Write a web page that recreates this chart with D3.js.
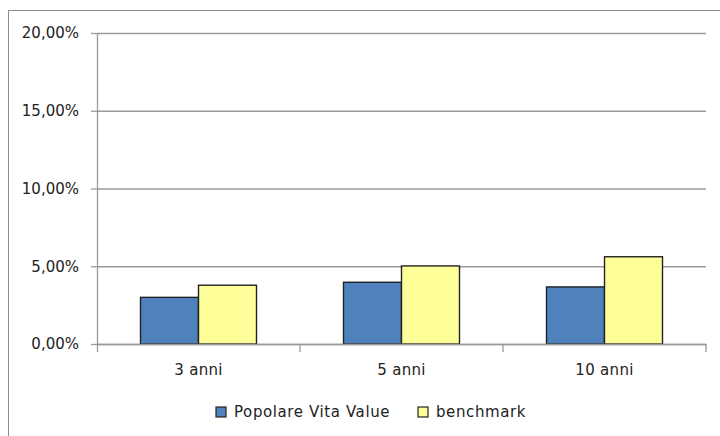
<!DOCTYPE html>
<html>
<head>
<meta charset="utf-8">
<script src="https://cdn.jsdelivr.net/npm/d3@7"></script>
<style>
  body { margin: 0; background: #fff; }
  svg text { font-family: "DejaVu Sans", sans-serif; fill: #222; }
</style>
</head>
<body>
<div id="vis"></div>
<script>
const categories = ["3 anni", "5 anni", "10 anni"];
const seriesNames = ["Popolare Vita Value", "benchmark"];
const fundValues = [0.0300, 0.0397, 0.0367];
const benchValues = [0.0378, 0.0502, 0.0561];
const yTicks = [0, 0.05, 0.10, 0.15, 0.20];

const FRAME_WIDTH = 720;
const FRAME_HEIGHT = 436;
const MARGINS = {left: 97, right: 14, top: 33, bottom: 92};
const VIS_W = FRAME_WIDTH - MARGINS.left - MARGINS.right;
const VIS_H = FRAME_HEIGHT - MARGINS.top - MARGINS.bottom;
const COLORS = ["#4f81bd", "#ffff99"];
const AXIS_COLOR = "#9a9a9a";

const itLocale = d3.formatLocale({decimal: ",", thousands: ".", grouping: [3], currency: ["", " €"], percent: "%"});
const fmt = itLocale.format(".2%");

const data = categories.map((c, i) => ({category: c, values: [fundValues[i], benchValues[i]]}));

const svg = d3.select("#vis").append("svg")
    .attr("width", FRAME_WIDTH)
    .attr("height", FRAME_HEIGHT);

// outer chart border (runs off the right and bottom of the picture)
svg.append("rect")
    .attr("x", 8.5).attr("y", 10.5)
    .attr("width", 740).attr("height", 460)
    .attr("fill", "none")
    .attr("stroke", "#8c8c8c");

const X_SCALE = d3.scaleBand().domain(categories).range([0, VIS_W]);
const SUB_SCALE = d3.scaleBand().domain([0, 1]).range([0, X_SCALE.bandwidth()])
    .paddingInner(0).paddingOuter(0.75);
const Y_SCALE = d3.scaleLinear().domain([0, 0.20]).range([VIS_H, 0]);

const plot = svg.append("g")
    .attr("transform", "translate(" + MARGINS.left + "," + MARGINS.top + ")");

// gridlines
plot.append("g")
    .call(d3.axisLeft(Y_SCALE).tickValues(yTicks).tickSize(-VIS_W).tickFormat(""))
    .call(g => g.select(".domain").remove())
    .call(g => g.selectAll("line").attr("stroke", AXIS_COLOR).attr("stroke-width", 1.3));

// y axis
plot.append("g")
    .call(d3.axisLeft(Y_SCALE).tickValues(yTicks).tickSize(6).tickPadding(12).tickFormat(fmt))
    .call(g => g.select(".domain").attr("d", "M0.5,0V" + (VIS_H + 8)).attr("stroke", AXIS_COLOR).attr("stroke-width", 1.3))
    .call(g => g.selectAll("line").attr("stroke", AXIS_COLOR).attr("stroke-width", 1.3))
    .call(g => g.selectAll("text").attr("font-size", "15px").style("font-family", "DejaVu Sans").attr("fill", "#222"));

// bars
const groups = plot.selectAll(".group")
    .data(data)
    .enter()
    .append("g")
    .attr("class", "group")
    .attr("transform", d => "translate(" + X_SCALE(d.category) + ",0)");

groups.selectAll("rect")
    .data(d => d.values.map((v, i) => ({i: i, v: v})))
    .enter()
    .append("rect")
    .attr("x", d => SUB_SCALE(d.i))
    .attr("y", d => Y_SCALE(d.v))
    .attr("width", SUB_SCALE.bandwidth())
    .attr("height", d => VIS_H - Y_SCALE(d.v))
    .attr("fill", d => COLORS[d.i])
    .attr("stroke", "#222")
    .attr("stroke-width", 1.4);

// x axis
plot.append("g")
    .attr("transform", "translate(0," + VIS_H + ")")
    .call(d3.axisBottom(X_SCALE).tickSize(0).tickPadding(20))
    .call(g => g.select(".domain").attr("stroke", AXIS_COLOR).attr("stroke-width", 1.3))
    .call(g => g.selectAll("text").attr("font-size", "15px").style("font-family", "DejaVu Sans")
        .attr("fill", "#222").attr("letter-spacing", "0.3px"));

// category boundary ticks
const bounds = categories.map(c => X_SCALE(c) + X_SCALE.bandwidth());
plot.append("g")
    .selectAll("line")
    .data(bounds)
    .enter()
    .append("line")
    .attr("x1", d => d).attr("x2", d => d)
    .attr("y1", VIS_H).attr("y2", VIS_H + 8)
    .attr("stroke", AXIS_COLOR)
    .attr("stroke-width", 1.3);

// legend
const legendX = [216, 418];
const legend = svg.append("g").attr("transform", "translate(0,407)");
const items = legend.selectAll("g")
    .data(seriesNames)
    .enter()
    .append("g")
    .attr("transform", (d, i) => "translate(" + legendX[i] + ",0)");
items.append("rect")
    .attr("width", 10).attr("height", 10)
    .attr("fill", (d, i) => COLORS[i])
    .attr("stroke", "#222")
    .attr("stroke-width", 1.2);
items.append("text")
    .attr("x", 18).attr("y", 5)
    .attr("dy", "0.35em")
    .attr("font-size", "15px")
    .attr("letter-spacing", "0.6px")
    .text(d => d);
</script>
</body>
</html>
